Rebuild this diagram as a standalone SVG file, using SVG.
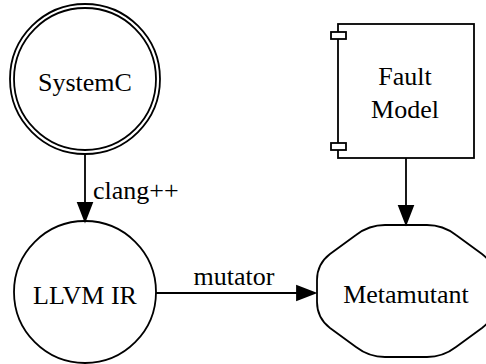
<svg xmlns="http://www.w3.org/2000/svg" width="486" height="364" viewBox="0 0 486 364">
<style>
.s{fill:none;stroke:#000;stroke-width:1.8}
.f{fill:#fff;stroke:#000;stroke-width:1.8}
.t{font-family:"Liberation Serif","Times New Roman",serif;font-size:26px;fill:#000}
.m{text-anchor:middle}
.ah{fill:#000;stroke:#000;stroke-width:1.8}
</style>
<rect width="486" height="364" fill="#fff"/>
<g id="connectors">
<line class="s" x1="85" y1="154" x2="85" y2="203"/>
<polygon class="ah" points="78,203 92,203 85,221"/>
<text class="t" x="93" y="199">clang++</text>
<line class="s" x1="156" y1="293" x2="297" y2="293"/>
<polygon class="ah" points="297,286 297,300 315,293"/>
<text class="t m" x="234" y="285">mutator</text>
<line class="s" x1="406" y1="158" x2="406" y2="206"/>
<polygon class="ah" points="399,206 413,206 406,224"/>
</g>
<g id="systemc">
<circle class="s" cx="85" cy="79" r="75"/>
<circle class="s" cx="85" cy="79" r="71"/>
<text class="t m" x="85" y="91">SystemC</text>
</g>
<g id="llvmir">
<circle class="s" cx="85" cy="292" r="71"/>
<text class="t m" x="85" y="304">LLVM IR</text>
</g>
<g id="faultmodel">
<rect class="s" x="338" y="24" width="136" height="134"/>
<rect class="f" x="331" y="32" width="15" height="7"/>
<rect class="f" x="331" y="143" width="15" height="7"/>
<text class="t m" x="405" y="85">Fault</text>
<text class="t m" x="405" y="118">Model</text>
</g>
<g id="metamutant">
<path class="s" d="M385,225 L427,225 Q443,225 456,235 L482,254 Q495,264 495,280 L495,302 Q495,318 482,328 L456,347 Q443,357 427,357 L385,357 Q369,357 356,347 L330,328 Q317,318 317,302 L317,280 Q317,264 330,254 L356,235 Q369,225 385,225 Z"/>
<text class="t m" x="406" y="303">Metamutant</text>
</g>
</svg>
